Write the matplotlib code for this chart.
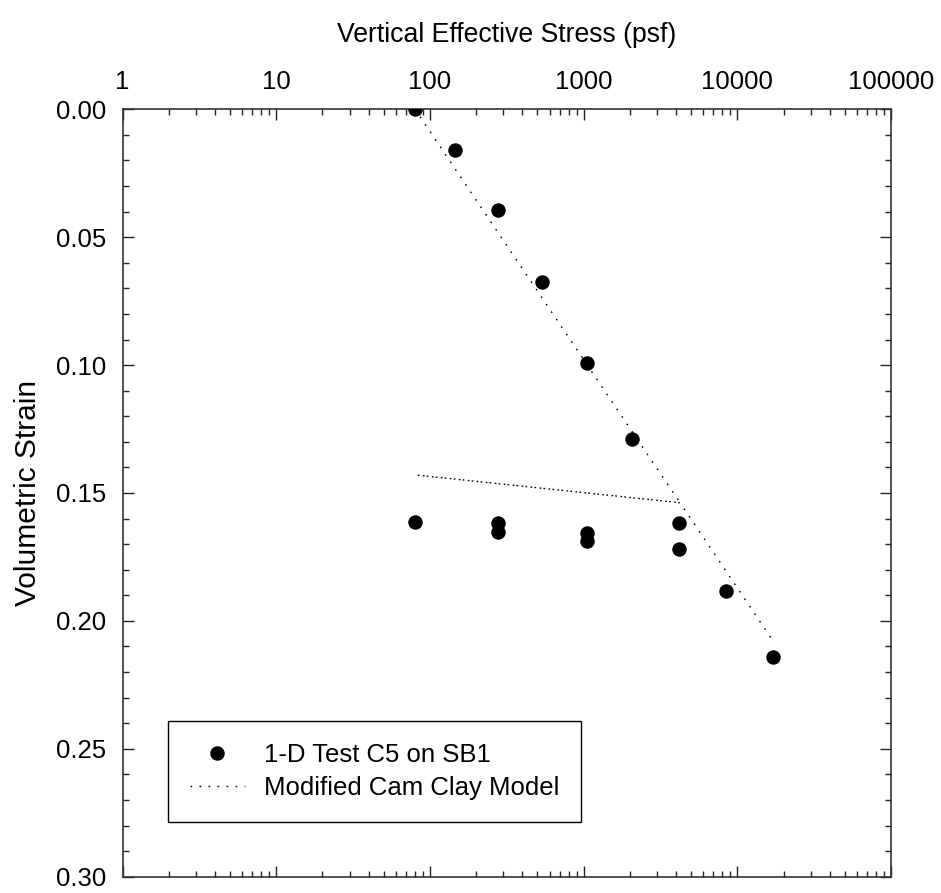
import matplotlib
matplotlib.use("Agg")
import matplotlib.pyplot as plt
from matplotlib.ticker import FixedLocator, FixedFormatter, LogLocator, NullFormatter, MultipleLocator

plt.rcParams['font.family'] = ['Liberation Sans', 'DejaVu Sans']

# Data
test_stress = [80, 146, 276, 539, 1057, 2065, 4180, 8400, 16990, 4180, 1057, 276, 80, 276, 1057]
test_strain = [0.000, 0.016, 0.0395, 0.0674, 0.0992, 0.129, 0.1617, 0.1883, 0.2143,
               0.1720, 0.1689, 0.1652, 0.1614, 0.1619, 0.1655]

model_stress = [80, 4240, 82, 4240, 16750]
model_strain = [0.000, 0.1538, 0.143, 0.1538, 0.2071]

x_ticks = [1, 10, 100, 1000, 10000, 100000]
x_tick_labels = ["1", "10", "100", "1000", "10000", "100000"]
y_ticks = [0.00, 0.05, 0.10, 0.15, 0.20, 0.25, 0.30]
y_tick_labels = ["0.00", "0.05", "0.10", "0.15", "0.20", "0.25", "0.30"]

W, H = 941, 893
fig = plt.figure(figsize=(W / 100, H / 100), dpi=100)
ax = fig.add_axes([122.5 / W, 1 - 876.7 / H, (891 - 122.5) / W, (876.7 - 109.3) / H])

ax.plot(model_stress, model_strain, color='black', lw=1.0, linestyle=(0, (1.2, 5.3)),
        label='Modified Cam Clay Model', zorder=2)
ax.plot(test_stress, test_strain, linestyle='none', marker='o', ms=9.4, color='black',
        label='1-D Test C5 on SB1', zorder=3)

ax.set_xscale('log')
ax.set_xlim(1, 100000)
ax.set_ylim(0.30, 0.00)

ax.xaxis.set_major_locator(FixedLocator(x_ticks))
ax.xaxis.set_major_formatter(FixedFormatter(x_tick_labels))
ax.xaxis.set_minor_locator(LogLocator(base=10, subs=range(2, 10), numticks=50))
ax.xaxis.set_minor_formatter(NullFormatter())
ax.yaxis.set_major_locator(FixedLocator(y_ticks))
ax.yaxis.set_major_formatter(FixedFormatter(y_tick_labels))
ax.yaxis.set_minor_locator(MultipleLocator(0.01))

fs = 18.5
ax.tick_params(which='both', direction='in', top=True, bottom=True, left=True, right=True,
               labeltop=True, labelbottom=False, labelleft=True, labelright=False,
               color='#222222', width=1.0)
ax.tick_params(which='major', length=8, labelsize=fs)
ax.tick_params(which='major', axis='x', pad=11)
ax.tick_params(which='major', axis='y', pad=12)
ax.tick_params(which='minor', length=4)

for sp in ax.spines.values():
    sp.set_color('#333333')
    sp.set_linewidth(1.2)

ax.xaxis.set_label_position('top')
ax.set_xlabel('Vertical Effective Stress (psf)', fontsize=19.2, labelpad=20)
ax.set_ylabel('Volumetric Strain', fontsize=21.5, labelpad=10)

handles, labels = ax.get_legend_handles_labels()
leg = ax.legend(handles[::-1], labels[::-1], loc='upper left',
                bbox_to_anchor=(168 / W, 1 - 721 / H), bbox_transform=fig.transFigure,
                borderaxespad=0, fontsize=fs, frameon=True, fancybox=False,
                framealpha=1, edgecolor='black', borderpad=0.85, labelspacing=0.35,
                handlelength=2.15, handletextpad=0.72, numpoints=1)
leg.get_frame().set_linewidth(1.0)

fig.savefig('out.png', dpi=100)
